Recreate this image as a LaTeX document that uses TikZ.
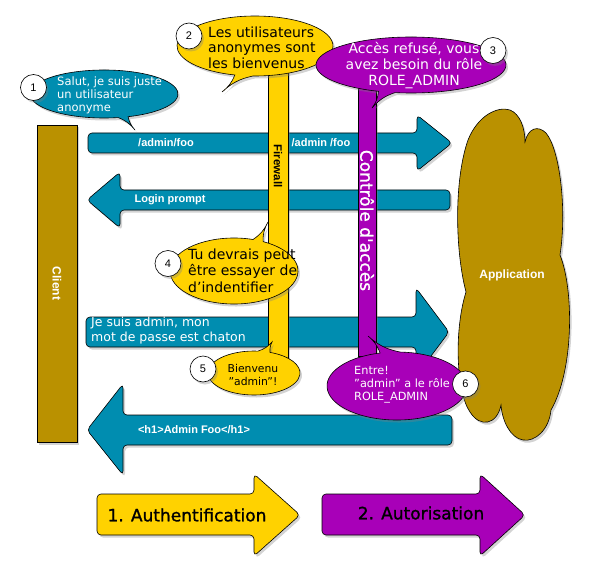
\documentclass[tikz,border=0pt]{standalone}
\usepackage{fontspec}
\setmainfont{DejaVu Sans}
\newfontfamily\arialfont{Liberation Sans}
\newfontfamily\heavyfont{DejaVu Sans}[FakeBold=1.2]
\usetikzlibrary{positioning}
\usetikzlibrary{shadows}

\definecolor{appteal}{RGB}{0,141,176}
\definecolor{appyellow}{RGB}{255,210,0}
\definecolor{apppurple}{RGB}{168,0,184}
\definecolor{appolive}{RGB}{186,145,0}

\begin{document}
\begin{tikzpicture}[x=1pt,y=1pt,
    softshadow/.style={drop shadow={opacity=.35,shadow xshift=2pt,shadow yshift=-2.5pt}},
    outline/.style={draw=black,line width=.6pt,softshadow},
    bigarrow/.style={outline,rounded corners=4pt},
    barbox/.style={outline,inner sep=0pt},
    numcirc/.style={circle,outline,fill=white,minimum size=26pt,inner sep=0pt,
                    font=\arialfont\fontsize{11}{13}\selectfont},
    flowlabel/.style={text=white,inner sep=0pt,font=\arialfont\bfseries\fontsize{11}{13}\selectfont},
    saytext/.style={inner sep=0pt,align=left,anchor=west}
  ]
  \useasboundingbox (0,0) rectangle (593,-585);

  % application
  \path[outline,fill=appolive] (466,-292)
     .. controls (455,-250) and (454,-180) .. (468,-140)
     .. controls (478,-115) and (498,-106) .. (510,-110)
     .. controls (520,-114) and (525,-128) .. (525,-142)
     .. controls (528,-128) and (538,-125) .. (546,-133)
     .. controls (560,-150) and (567,-210) .. (560,-255)
     .. controls (574,-290) and (574,-370) .. (551,-410)
     .. controls (549,-430) and (535,-442) .. (523,-440)
     .. controls (510,-438) and (502,-420) .. (501,-405)
     .. controls (497,-425) and (480,-428) .. (470,-412)
     .. controls (456,-392) and (454,-330) .. (466,-292) -- cycle;
  \node[flowlabel,font=\arialfont\bfseries\fontsize{12}{14}\selectfont] (app) at (512,-275) {Application};

  % requests and responses
  \path[bigarrow,fill=appteal] (88,-133) -- (417,-133) -- (417,-115) -- (452,-143)
     -- (417,-171) -- (417,-153) -- (88,-153) -- cycle;
  \path[bigarrow,fill=appteal] (450,-190) -- (120,-190) -- (120,-172) -- (87,-200)
     -- (120,-228) -- (120,-210) -- (450,-210) -- cycle;
  \path[bigarrow,fill=appteal] (86,-317) -- (416,-317) -- (416,-288) -- (449,-332)
     -- (416,-376) -- (416,-347) -- (86,-347) -- cycle;
  \path[bigarrow,fill=appteal] (452,-415) -- (123,-415) -- (123,-384) -- (87,-430)
     -- (123,-475) -- (123,-445) -- (452,-445) -- cycle;
  \node[flowlabel] (req1) at (166,-143) {/admin/foo};
  \node[flowlabel] (req2) at (321,-143) {/admin /foo};
  \node[flowlabel] (login) at (170,-200) {Login prompt};
  \node[saytext,text=white,font=\fontsize{12.5}{15}\selectfont] (creds) at (91,-331)
     {Je suis admin, mon\\mot de passe est chaton};
  \node[flowlabel] (page) at (194,-430) {<h1>Admin Foo</h1>};

  % bars
  \path[outline,fill=appyellow] (268,-70) rectangle (288,-358);
  \node[rotate=-90,inner sep=0pt,font=\arialfont\bfseries\fontsize{11.5}{13}\selectfont] (firewall) at (278,-166) {Firewall};
  \node[barbox,fill=apppurple,rotate=-90,minimum width=271pt,minimum height=18pt,
        text=white,font=\heavyfont\fontsize{17}{20}\selectfont] (acl) at (367,-220.5) {Contrôle d\symbol{39}accès};
  \node[barbox,fill=appolive,rotate=-90,minimum width=317pt,minimum height=40pt,
        text=white,font=\arialfont\bfseries\fontsize{12}{14}\selectfont] (client) at (57,-283.5) {Client};

  % speech bubbles
  \coordinate (tip1) at (135,-130);
  \coordinate (tip2) at (222,-92);
  \coordinate (tip3) at (372,-108);
  \coordinate (tip4) at (268,-222);
  \coordinate (tip5) at (272,-342);
  \coordinate (tip6) at (368,-336);
  \path[outline,fill=appteal] (104,-94) ++(-71:74pt and 24pt) coordinate (b1s)
     arc[start angle=-71,end angle=281,x radius=74pt,y radius=24pt]
     to[bend left=15] (tip1) to[bend left=15] (b1s) -- cycle;
  \path[outline,fill=appyellow] (255,-46) ++(-91.5:78pt and 30pt) coordinate (b2s)
     arc[start angle=-91.5,end angle=255,x radius=78pt,y radius=30pt]
     to[bend left=15] (tip2) to[bend left=15] (b2s) -- cycle;
  \path[outline,fill=apppurple] (411,-65) ++(-99.7:95pt and 28pt) coordinate (b3s)
     arc[start angle=-99.7,end angle=250,x radius=95pt,y radius=28pt]
     to[bend left=15] (tip3) to[bend left=15] (b3s) -- cycle;
  \path[outline,fill=appyellow] (234,-271) ++(72.7:64pt and 33pt) coordinate (b4s)
     arc[start angle=72.7,end angle=423,x radius=64pt,y radius=33pt]
     to[bend left=15] (tip4) to[bend left=15] (b4s) -- cycle;
  \path[outline,fill=appyellow] (254,-373) ++(85:46pt and 22pt) coordinate (b5s)
     arc[start angle=85,end angle=429.6,x radius=46pt,y radius=22pt]
     to[bend left=15] (tip5) to[bend left=15] (b5s) -- cycle;
  \path[outline,fill=apppurple] (397,-386) ++(104:70pt and 34pt) coordinate (b6s)
     arc[start angle=104,end angle=447.5,x radius=70pt,y radius=34pt]
     to[bend left=15] (tip6) to[bend left=15] (b6s) -- cycle;

  \node[saytext,text=white,font=\fontsize{11.5}{13}\selectfont] (say1) at (57,-95)
     {Salut, je suis juste\\un utilisateur\\anonyme};
  \node[saytext,font=\fontsize{14}{15.5}\selectfont] (say2) at (208,-47.5)
     {Les utilisateurs\\anonymes sont\\les bienvenus};
  \node[inner sep=0pt,align=center,text=white,font=\fontsize{14}{16}\selectfont] (say3) at (414,-66)
     {Accès refusé, vous\\avez besoin du rôle\\ROLE\_ADMIN};
  \node[saytext,font=\fontsize{14}{16.5}\selectfont] (say4) at (188,-270.5)
     {Tu devrais peut\\être essayer de\\d\symbol{39}indentifier};
  \node[inner sep=0pt,align=center,font=\fontsize{10.8}{13}\selectfont] (say5) at (253,-374.5)
     {Bienvenu\\\symbol{34}admin\symbol{34}!};
  \node[saytext,text=white,font=\fontsize{11.3}{13}\selectfont] (say6) at (354,-385)
     {Entre!\\\symbol{34}admin\symbol{34} a le rôle\\ROLE\_ADMIN};

  \node[numcirc] (n1) at (33.5,-87.5) {1};
  \node[numcirc] (n2) at (189,-36) {2};
  \node[numcirc] (n3) at (493,-50.5) {3};
  \node[numcirc] (n4) at (168,-263.5) {4};
  \node[numcirc] (n5) at (203,-369) {5};
  \node[numcirc] (n6) at (465.5,-384) {6};

  % phases
  \path[bigarrow,fill=appyellow] (97,-494) -- (254,-494) -- (254,-474) -- (300,-515)
     -- (254,-556) -- (254,-535) -- (97,-535) -- cycle;
  \path[bigarrow,fill=apppurple] (322,-494) -- (480,-494) -- (480,-474) -- (525,-515)
     -- (480,-556) -- (480,-535) -- (322,-535) -- cycle;
  \node[inner sep=0pt,font=\heavyfont\fontsize{17}{20}\selectfont] (auth) at (187,-515) {1. Authentification};
  \node[inner sep=0pt,font=\heavyfont\fontsize{17}{20}\selectfont] (autho) at (421,-513) {2. Autorisation};
\end{tikzpicture}
\end{document}
